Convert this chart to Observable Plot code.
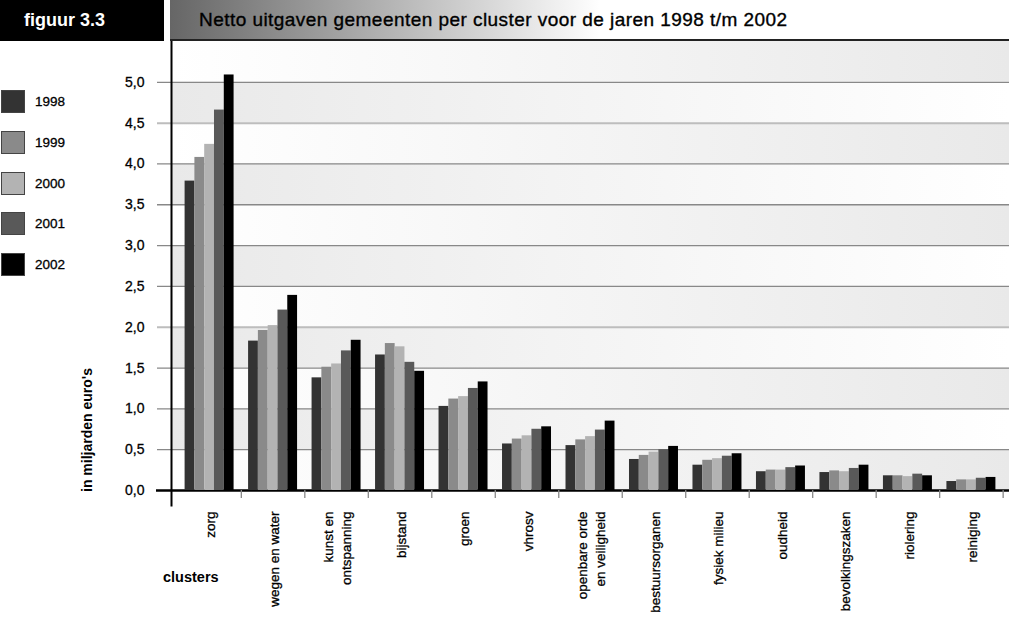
<!DOCTYPE html>
<html><head><meta charset="utf-8">
<script src="https://cdn.jsdelivr.net/npm/d3@7"></script>
<script src="https://cdn.jsdelivr.net/npm/@observablehq/plot@0.6"></script>
<style>
body{margin:0;background:#fff;}
#wrap{position:relative;width:1009px;height:619px;overflow:hidden;font-family:"Liberation Sans",Arial,Helvetica,sans-serif;color:#000;background:#fff;}
.layer{position:absolute;left:0;top:0;}
.layer svg text{stroke:#000;stroke-width:0.3px;}
#figbox{position:absolute;left:0;top:0;width:164px;height:41px;background:#000;color:#fff;font-weight:bold;font-size:18px;line-height:41px;padding-left:24px;box-sizing:border-box;}
#titlebox{position:absolute;left:170px;top:0;width:839px;height:41px;box-sizing:border-box;border-bottom:2px solid #222;background:linear-gradient(to right,#666 0px,#fff 430px,#fff 100%);font-size:19px;letter-spacing:0.45px;line-height:39px;padding-left:29px;white-space:nowrap;-webkit-text-stroke:0.35px #000;}
#legend{position:absolute;left:1px;top:90px;}
.lrow{position:relative;height:40.75px;}
.lsw{position:absolute;left:0;top:0;width:24px;height:23px;box-sizing:border-box;border:1px solid #444;}
.llab{position:absolute;left:34px;top:0;line-height:23px;font-size:13.5px;-webkit-text-stroke:0.3px #000;}
#ylab{position:absolute;left:87px;top:430px;transform:translate(-50%,-50%) rotate(-90deg);font-weight:bold;font-size:14px;white-space:nowrap;}
#xlab{position:absolute;left:163px;top:569px;font-weight:bold;font-size:14.5px;white-space:nowrap;}
</style>
</head>
<body>
<div id="wrap">
  <div id="bg" class="layer"></div>
  <div id="fg" class="layer"></div>
  <div id="figbox">figuur 3.3</div>
  <div id="titlebox">Netto uitgaven gemeenten per cluster voor de jaren 1998 t/m 2002</div>
  <div id="legend"></div>
  <div id="ylab">in miljarden euro's</div>
  <div id="xlab">clusters</div>
</div>
<script>
// ---- data ----
const clusters = ["zorg", "wegen en water", "kunst en\nontspanning", "bijstand", "groen", "vhrosv",
  "openbare orde\nen veiligheid", "bestuursorganen", "fysiek milieu", "oudheid", "bevolkingszaken",
  "riolering", "reiniging"];
const years = ["1998", "1999", "2000", "2001", "2002"];
const v1998 = [3.79, 1.83, 1.38, 1.66, 1.03, 0.57, 0.55, 0.38, 0.31, 0.23, 0.22, 0.18, 0.11];
const v1999 = [4.08, 1.96, 1.51, 1.80, 1.12, 0.63, 0.62, 0.43, 0.37, 0.25, 0.24, 0.18, 0.13];
const v2000 = [4.24, 2.02, 1.55, 1.76, 1.15, 0.67, 0.66, 0.47, 0.39, 0.25, 0.23, 0.17, 0.13];
const v2001 = [4.66, 2.21, 1.71, 1.57, 1.25, 0.75, 0.74, 0.50, 0.42, 0.28, 0.27, 0.20, 0.15];
const v2002 = [5.09, 2.39, 1.84, 1.46, 1.33, 0.78, 0.85, 0.54, 0.45, 0.30, 0.31, 0.18, 0.16];
const yearColors = ["#333333", "#8a8a8a", "#b3b3b3", "#595959", "#000000"];
const yTicks = [0, 0.5, 1, 1.5, 2, 2.5, 3, 3.5, 4, 4.5, 5];
const yMax = 5.5;

const series = [v1998, v1999, v2000, v2001, v2002];
const rows = years.flatMap((yr, j) => clusters.map((c, i) => ({cluster: c, year: yr, value: series[j][i]})));
const bands = yTicks.map((t, i) => ({lo: t, hi: t + 0.5, i}));
const fmt = d => d3.format(".1f")(d).replace(".", ",");

const W = 1009, H = 619, ML = 171, MR = 0, MT = 41, MB = 129;
const FONT = '"Liberation Sans", Arial, Helvetica, sans-serif';

// ---- background layer: bands, grid, y axis ----
const bg = Plot.plot({
  width: W, height: H, marginLeft: ML, marginRight: MR, marginTop: MT, marginBottom: MB,
  style: {fontFamily: FONT, fontSize: "14px", color: "#000", background: "transparent", overflow: "visible"},
  x: {domain: [0, 1], axis: null},
  y: {domain: [0, yMax], axis: null},
  marks: [
    Plot.rect(bands.filter(d => d.i % 2 === 0), {y1: "lo", y2: "hi", fill: "url(#bandEven)"}),
    Plot.rect(bands.filter(d => d.i % 2 === 1), {y1: "lo", y2: "hi", fill: "url(#bandOdd)"}),
    Plot.ruleY(yTicks.filter(t => t > 0 && t !== 2 && t !== 4.5), {stroke: "#888888", strokeWidth: 1.3, insetLeft: -14}),
    Plot.ruleY(yTicks.filter(t => t === 2 || t === 4.5), {stroke: "#bdbdbd", strokeWidth: 2, insetLeft: -14}),
    Plot.axisY(yTicks, {tickSize: 0, tickPadding: 27, tickFormat: fmt, label: null, fontSize: 14}),
    Plot.ruleY([0], {stroke: "#000", strokeWidth: 2.5, insetLeft: -15}),
    Plot.frame({anchor: "left", stroke: "#000", strokeWidth: 2, insetTop: -1, insetBottom: -15})
  ]
});
const ns = "http://www.w3.org/2000/svg";
const defs = document.createElementNS(ns, "defs");
defs.innerHTML =
  '<linearGradient id="bandEven" x1="0" x2="1" y1="0" y2="0"><stop offset="0" stop-color="#ffffff"/><stop offset="1" stop-color="#e9e9e9"/></linearGradient>' +
  '<linearGradient id="bandOdd" x1="0" x2="1" y1="0" y2="0"><stop offset="0" stop-color="#e9e9e9"/><stop offset="1" stop-color="#ffffff"/></linearGradient>';
bg.prepend(defs);
document.getElementById("bg").appendChild(bg);

// ---- foreground layer: grouped bars + cluster axis ----
const fxPadOuter = 0.1;
const step = (W - ML - MR) / (clusters.length + 2 * fxPadOuter);
const fg = Plot.plot({
  width: W, height: H, marginLeft: ML, marginRight: MR, marginTop: MT, marginBottom: MB,
  style: {fontFamily: FONT, fontSize: "13.5px", color: "#000", background: "transparent", overflow: "visible"},
  fx: {domain: clusters, paddingInner: 0, paddingOuter: fxPadOuter, round: false, label: null},
  x: {domain: years, paddingInner: 0, paddingOuter: 0.74, round: false, axis: null},
  y: {domain: [0, yMax], axis: null},
  color: {domain: years, range: yearColors},
  marks: [
    Plot.barY(rows, {fx: "cluster", x: "year", y: "value", fill: "year"}),
    Plot.axisFx({anchor: "bottom", text: null, tickSize: 8, dx: step / 2, stroke: "#888888", strokeWidth: 1.3, label: null}),
    Plot.axisFx({anchor: "bottom", tickSize: 0, tickPadding: 21, tickRotate: -90, label: null, fontSize: 13.5, lineHeight: 1.35})
  ]
});
document.getElementById("fg").appendChild(fg);

// ---- legend ----
const legend = document.getElementById("legend");
years.forEach((yr, j) => {
  const row = document.createElement("div");
  row.className = "lrow";
  const sw = document.createElement("div");
  sw.className = "lsw";
  sw.style.background = yearColors[j];
  const lab = document.createElement("div");
  lab.className = "llab";
  lab.textContent = yr;
  row.appendChild(sw); row.appendChild(lab);
  legend.appendChild(row);
});
</script>
</body></html>
